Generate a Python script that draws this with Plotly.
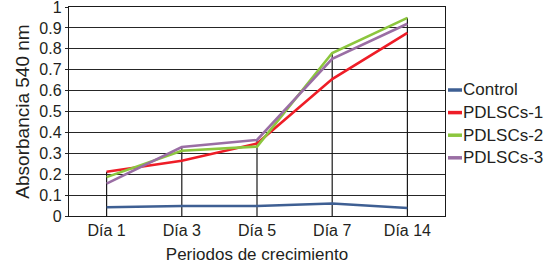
import plotly.graph_objects as go

categories = ["Día 1", "Día 3", "Día 5", "Día 7", "Día 14"]
control = [0.042, 0.048, 0.048, 0.060, 0.038]
pdlscs_1 = [0.212, 0.264, 0.347, 0.655, 0.876]
pdlscs_2 = [0.186, 0.312, 0.332, 0.780, 0.948]
pdlscs_3 = [0.155, 0.330, 0.364, 0.752, 0.920]

series_names = ["Control", "PDLSCs-1", "PDLSCs-2", "PDLSCs-3"]
series_values = [control, pdlscs_1, pdlscs_2, pdlscs_3]
series_colors = ["#3e5f93", "#ee1d27", "#8cc63e", "#9a6ea4"]

y_tick_vals = [0, 0.1, 0.2, 0.3, 0.4, 0.5, 0.6, 0.7, 0.8, 0.9, 1]
y_tick_text = ["0", "0.1", "0.2", "0.3", "0.4", "0.5", "0.6", "0.7", "0.8", "0.9", "1"]

FONT = "Liberation Sans, Arial, sans-serif"
W, H = 555, 269
L, R, T, B = 69, 110, 7, 53
PW, PH = W - L - R, H - T - B

fig = go.Figure()

# drop lines from the highest point of each category down to the axis
for i, cat in enumerate(categories):
    top = max(s[i] for s in series_values)
    fig.add_trace(go.Scatter(x=[cat, cat], y=[0, top], mode="lines",
                             line=dict(color="#1a1a1a", width=1.2),
                             showlegend=False, hoverinfo="skip"))

for name, vals, col in zip(series_names, series_values, series_colors):
    fig.add_trace(go.Scatter(x=categories, y=vals, mode="lines", name=name,
                             line=dict(color=col, width=2.6), showlegend=False))

# compact legend (pixel layout converted to paper coords of plot area)
def px_x(px):
    return (px - L) / PW

def px_y(py):
    return (H - B - py) / PH

for k, (name, col) in enumerate(zip(series_names, series_colors)):
    yc = px_y(90 + 22.6 * k)
    fig.add_shape(type="line", xref="paper", yref="paper",
                  x0=px_x(448), x1=px_x(462), y0=yc, y1=yc,
                  line=dict(color=col, width=3.5))
    fig.add_annotation(xref="paper", yref="paper", x=px_x(461), y=yc,
                       text=name, showarrow=False, xanchor="left", yanchor="middle",
                       font=dict(family=FONT, size=17, color="#231f20"))

fig.update_layout(
    template="none",
    width=W, height=H,
    margin=dict(l=L, r=R, t=T, b=B),
    paper_bgcolor="white", plot_bgcolor="white",
    font=dict(family=FONT, color="#231f20"),
    xaxis=dict(
        type="category", range=[-0.5, 4.5],
        showgrid=False, showline=True, linecolor="#1a1a1a", linewidth=1.4, mirror=True,
        ticks="", tickfont=dict(size=16), automargin=False,
        title=dict(text="Periodos de crecimiento", font=dict(size=17), standoff=9),
    ),
    yaxis=dict(
        range=[0, 1], tickmode="array", tickvals=y_tick_vals, ticktext=y_tick_text,
        showgrid=True, gridcolor="#262626", gridwidth=1.4,
        showline=True, linecolor="#1a1a1a", linewidth=1.4, mirror=True,
        ticks="outside", ticklen=3, tickcolor="#262626", tickwidth=1.4,
        tickfont=dict(size=16), automargin=False, ticklabeloverflow="allow",
        title=dict(text="Absorbancia 540 nm", font=dict(size=19), standoff=4),
        zeroline=False,
    ),
)

fig.write_html("out.html", post_script="document.body.style.margin='0px';",
               config={"displayModeBar": False})
